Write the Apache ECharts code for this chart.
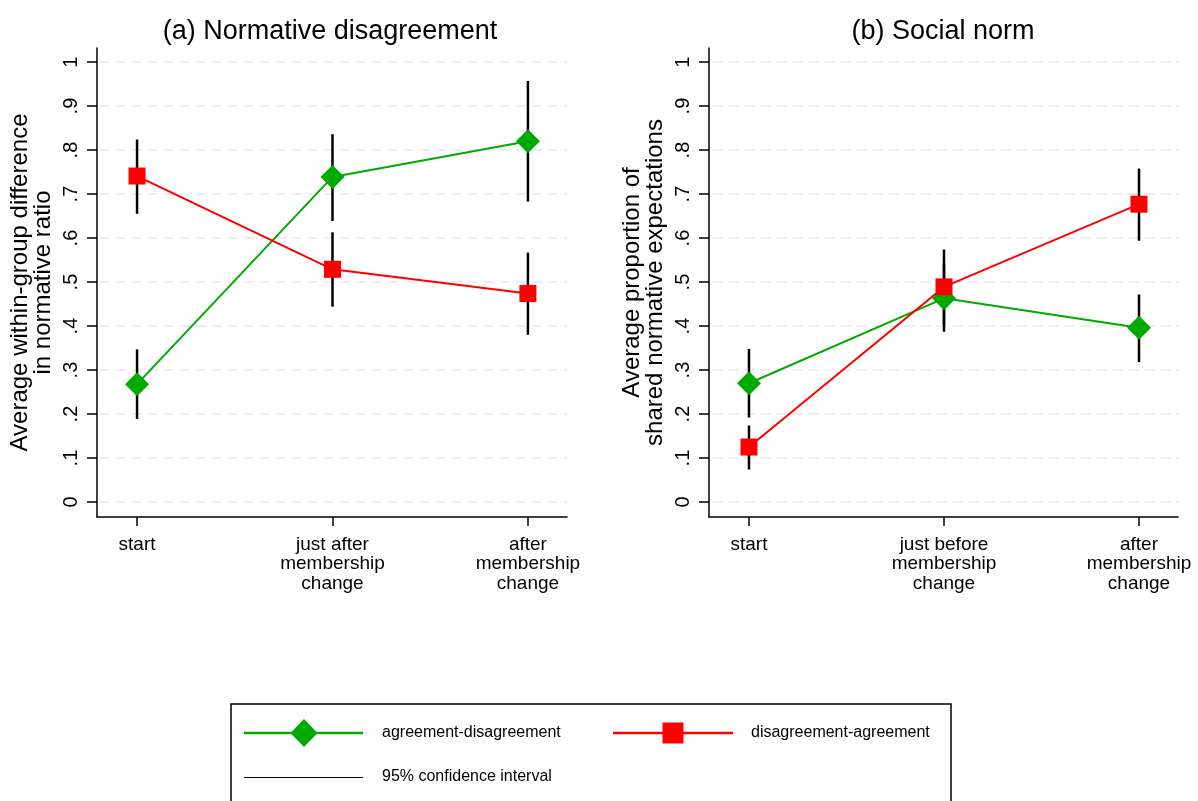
<!DOCTYPE html>
<html>
<head>
<meta charset="utf-8">
<script src="https://cdn.jsdelivr.net/npm/echarts@6/dist/echarts.min.js"></script>
<style>
  html, body { margin: 0; padding: 0; background: #fff; }
  #chart { width: 1198px; height: 801px; }
</style>
</head>
<body>
<div id="chart"></div>
<script>
// Phases on the x axis (1, 2, 3) and their labels in each panel
const phases = [1, 2, 3];
const labelsA = ['start', 'just after\nmembership\nchange', 'after\nmembership\nchange'];
const labelsB = ['start', 'just before\nmembership\nchange', 'after\nmembership\nchange'];

// y ticks shared by both panels
const yTickValues = [0, 0.1, 0.2, 0.3, 0.4, 0.5, 0.6, 0.7, 0.8, 0.9, 1];
const yTickLabels = ['0', '.1', '.2', '.3', '.4', '.5', '.6', '.7', '.8', '.9', '1'];

// (a) Normative disagreement: means and 95% CI bounds
const aAgreeMean = [0.268, 0.739, 0.820];
const aAgreeLow  = [0.189, 0.639, 0.683];
const aAgreeHigh = [0.347, 0.836, 0.957];
const aDisMean   = [0.741, 0.529, 0.474];
const aDisLow    = [0.655, 0.444, 0.380];
const aDisHigh   = [0.824, 0.613, 0.567];

// (b) Social norm: means and 95% CI bounds
const bAgreeMean = [0.270, 0.463, 0.396];
const bAgreeLow  = [0.192, 0.387, 0.318];
const bAgreeHigh = [0.348, 0.540, 0.472];
const bDisMean   = [0.125, 0.489, 0.677];
const bDisLow    = [0.074, 0.403, 0.594];
const bDisHigh   = [0.174, 0.574, 0.758];

const GREEN = '#00aa00';
const RED = '#ff0000';
const FONT = '"Liberation Sans", Arial, Helvetica, sans-serif';

const pts = (vals) => phases.map((p, i) => [p, vals[i]]);
const ciData = (lo, hi) => phases.map((p, i) => [p, lo[i], hi[i]]);

function xAxisFor(gridIndex, labels) {
  return {
    type: 'value', gridIndex, min: 0.795, max: 3.2,
    axisLine: { show: true, onZero: false, lineStyle: { color: '#000', width: 1.5 } },
    axisTick: { show: true, customValues: phases, length: 9, lineStyle: { color: '#000', width: 1.5 } },
    axisLabel: {
      customValues: phases, margin: 18, color: '#000', fontFamily: FONT,
      fontSize: 19, lineHeight: 19.5,
      formatter: (v) => labels[Math.round(v) - 1]
    },
    splitLine: { show: false }
  };
}

function yAxisFor(gridIndex, name) {
  return {
    type: 'value', gridIndex, min: -0.034, max: 1.032,
    name, nameLocation: 'middle', nameGap: 42, nameRotate: 90,
    nameTextStyle: { color: '#000', fontFamily: FONT, fontSize: 24, lineHeight: 23 },
    axisLine: { show: true, onZero: false, lineStyle: { color: '#000', width: 1.5 } },
    axisTick: { show: true, customValues: yTickValues, length: 10, lineStyle: { color: '#000', width: 1.5 } },
    axisLabel: {
      customValues: yTickValues, rotate: 90, margin: 16, color: '#000',
      fontFamily: FONT, fontSize: 20,
      formatter: (v) => {
        const i = yTickValues.findIndex(t => Math.abs(t - v) < 1e-6);
        return i >= 0 ? yTickLabels[i] : '';
      }
    },
    splitLine: { show: false }
  };
}

// dashed horizontal gridlines at each y tick, drawn beneath everything else
function gridSeries(axisIndex) {
  return {
    type: 'custom', xAxisIndex: axisIndex, yAxisIndex: axisIndex, z: 0, silent: true,
    data: yTickValues.map(v => [v]),
    renderItem: (params, api) => {
      const y = api.coord([0.795, api.value(0)])[1];
      const xs = [params.coordSys.x, params.coordSys.x + params.coordSys.width];
      return { type: 'line', shape: { x1: xs[0] + 3, y1: y, x2: xs[1], y2: y },
               style: { stroke: '#e9e9e9', lineWidth: 1.5, lineDash: [10, 6] } };
    }
  };
}

function ciSeries(axisIndex, lo, hi) {
  return {
    type: 'custom', xAxisIndex: axisIndex, yAxisIndex: axisIndex, z: 2,
    data: ciData(lo, hi), silent: true,
    renderItem: (params, api) => {
      const x = api.value(0);
      const a = api.coord([x, api.value(1)]);
      const b = api.coord([x, api.value(2)]);
      return { type: 'line', shape: { x1: a[0], y1: a[1], x2: b[0], y2: b[1] },
               style: { stroke: '#000', lineWidth: 2.5 } };
    }
  };
}

function meanSeries(axisIndex, vals, color, symbol, size) {
  return {
    type: 'line', xAxisIndex: axisIndex, yAxisIndex: axisIndex, z: 3,
    data: pts(vals), symbol, symbolSize: size, showSymbol: true,
    lineStyle: { color, width: 2 }, itemStyle: { color },
    silent: true, animation: false
  };
}

const chart = echarts.init(document.getElementById('chart'), null, { renderer: 'canvas' });

chart.setOption({
  animation: false,
  backgroundColor: '#fff',
  title: [
    { text: '(a) Normative disagreement', left: 325, top: 13, textAlign: 'center',
      textStyle: { fontFamily: FONT, fontSize: 27, fontWeight: 'normal', color: '#000' } },
    { text: '(b) Social norm', left: 938, top: 13, textAlign: 'center',
      textStyle: { fontFamily: FONT, fontSize: 27, fontWeight: 'normal', color: '#000' } }
  ],
  grid: [
    { left: 97, top: 48, width: 470, height: 469, containLabel: false, outerBoundsMode: 'none' },
    { left: 709, top: 48, width: 469, height: 469, containLabel: false, outerBoundsMode: 'none' }
  ],
  xAxis: [xAxisFor(0, labelsA), xAxisFor(1, labelsB)],
  yAxis: [
    yAxisFor(0, 'Average within-group difference\nin normative ratio'),
    yAxisFor(1, 'Average proportion of\nshared normative expectations')
  ],
  series: [
    gridSeries(0),
    ciSeries(0, aAgreeLow, aAgreeHigh),
    ciSeries(0, aDisLow, aDisHigh),
    meanSeries(0, aAgreeMean, GREEN, 'diamond', 24),
    meanSeries(0, aDisMean, RED, 'rect', 17),
    gridSeries(1),
    ciSeries(1, bAgreeLow, bAgreeHigh),
    ciSeries(1, bDisLow, bDisHigh),
    meanSeries(1, bAgreeMean, GREEN, 'diamond', 24),
    meanSeries(1, bDisMean, RED, 'rect', 17)
  ],
  graphic: [
    { type: 'rect', shape: { x: 231, y: 704, width: 720, height: 130 },
      style: { fill: '#fff', stroke: '#000', lineWidth: 1.5 }, z: 10 },
    { type: 'line', shape: { x1: 244, y1: 733, x2: 363, y2: 733 },
      style: { stroke: GREEN, lineWidth: 2.5 }, z: 11 },
    { type: 'polygon', shape: { points: [[304, 719], [317.5, 733], [304, 747], [290.5, 733]] },
      style: { fill: GREEN }, z: 12 },
    { type: 'text', x: 382, y: 733, z: 11,
      style: { text: 'agreement-disagreement', fill: '#000', font: '16px ' + FONT, textVerticalAlign: 'middle' } },
    { type: 'line', shape: { x1: 613, y1: 733, x2: 733, y2: 733 },
      style: { stroke: RED, lineWidth: 2.5 }, z: 11 },
    { type: 'rect', shape: { x: 662.5, y: 722.5, width: 21, height: 21 },
      style: { fill: RED }, z: 12 },
    { type: 'text', x: 751, y: 733, z: 11,
      style: { text: 'disagreement-agreement', fill: '#000', font: '16px ' + FONT, textVerticalAlign: 'middle' } },
    { type: 'line', shape: { x1: 244, y1: 777.5, x2: 363, y2: 777.5 },
      style: { stroke: '#000', lineWidth: 1 }, z: 11 },
    { type: 'text', x: 382, y: 777, z: 11,
      style: { text: '95% confidence interval', fill: '#000', font: '16px ' + FONT, textVerticalAlign: 'middle' } }
  ]
});
</script>
</body>
</html>
